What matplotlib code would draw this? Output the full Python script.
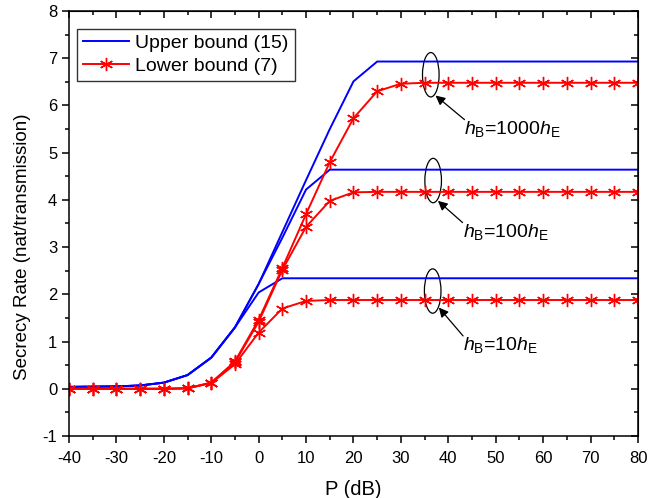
import numpy as np
import matplotlib.pyplot as plt
from matplotlib.patches import Ellipse
from matplotlib.ticker import MultipleLocator

plt.rcParams['font.family'] = ['Liberation Sans', 'DejaVu Sans']
plt.rcParams['mathtext.fontset'] = 'custom'
plt.rcParams['mathtext.rm'] = 'Liberation Sans'
plt.rcParams['mathtext.it'] = 'Liberation Sans:italic'
plt.rcParams['axes.unicode_minus'] = False

P = [-40, -35, -30, -25, -20, -15, -10, -5, 0, 5, 10, 15, 20, 25, 30, 35, 40, 45, 50, 55, 60, 65, 70, 75, 80]

# upper bound (15)
upper_10 = [0.04, 0.045, 0.05, 0.07, 0.13, 0.29, 0.66, 1.30, 2.04, 2.34, 2.34, 2.34, 2.34,
            2.34, 2.34, 2.34, 2.34, 2.34, 2.34, 2.34, 2.34, 2.34, 2.34, 2.34, 2.34]
upper_100 = [0.04, 0.045, 0.05, 0.07, 0.13, 0.29, 0.66, 1.30, 2.22, 3.20, 4.22, 4.64, 4.64,
             4.64, 4.64, 4.64, 4.64, 4.64, 4.64, 4.64, 4.64, 4.64, 4.64, 4.64, 4.64]
upper_1000 = [0.04, 0.045, 0.05, 0.07, 0.13, 0.29, 0.66, 1.30, 2.22, 3.32, 4.42, 5.50, 6.51,
              6.93, 6.93, 6.93, 6.93, 6.93, 6.93, 6.93, 6.93, 6.93, 6.93, 6.93, 6.93]

# lower bound (7)
lower_10 = [0, 0, 0, 0, 0, 0.01, 0.12, 0.52, 1.19, 1.70, 1.86, 1.88, 1.88,
            1.88, 1.88, 1.88, 1.88, 1.88, 1.88, 1.88, 1.88, 1.88, 1.88, 1.88, 1.88]
lower_100 = [0, 0, 0, 0, 0, 0.01, 0.13, 0.56, 1.42, 2.52, 3.43, 3.98, 4.16,
             4.17, 4.17, 4.17, 4.17, 4.17, 4.17, 4.17, 4.17, 4.17, 4.17, 4.17, 4.17]
lower_1000 = [0, 0, 0, 0, 0, 0.01, 0.13, 0.58, 1.46, 2.56, 3.70, 4.80, 5.73,
              6.30, 6.46, 6.48, 6.48, 6.48, 6.48, 6.48, 6.48, 6.48, 6.48, 6.48, 6.48]

labels = [r'$h_\mathrm{B}$=1000$h_\mathrm{E}$',
          r'$h_\mathrm{B}$=100$h_\mathrm{E}$',
          r'$h_\mathrm{B}$=10$h_\mathrm{E}$']
ell_xy = [(36.3, 6.65), (36.8, 4.41), (36.7, 2.07)]
arrow_head = [(37.3, 6.21), (37.8, 3.98), (38.0, 1.72)]
arrow_tail = [(43.4, 5.70), (43.0, 3.52), (43.1, 1.12)]

fig = plt.figure(figsize=(6.49, 4.98), dpi=100)
ax = fig.add_axes([69/649, 1-436/498, 569/649, 425/498])

star = (6, 2, 0)
ax.plot(P, upper_1000, color='blue', lw=1.4, label='Upper bound (15)')
ax.plot(P, upper_100, color='blue', lw=1.4)
ax.plot(P, upper_10, color='blue', lw=1.4)
ax.plot(P, lower_1000, color='red', lw=1.4, marker=star, ms=9.5, mew=1.0, label='Lower bound (7)')
ax.plot(P, lower_100, color='red', lw=1.4, marker=star, ms=9.5, mew=1.0)
ax.plot(P, lower_10, color='red', lw=1.4, marker=star, ms=9.5, mew=1.0)

for lab, c, h, t in zip(labels, ell_xy, arrow_head, arrow_tail):
    ax.add_patch(Ellipse(c, 3.5, 0.94, fill=False, ec='black', lw=0.9))
    ax.annotate('', xy=h, xytext=t,
                arrowprops=dict(arrowstyle='-|>', color='black', lw=0.9,
                                mutation_scale=14, shrinkA=0, shrinkB=0))
    ax.text(t[0], t[1] + 0.02, lab, fontsize=14, ha='left', va='top')

ax.set_xlim(-40, 80)
ax.set_ylim(-1, 8)
ax.xaxis.set_major_locator(MultipleLocator(10))
ax.xaxis.set_minor_locator(MultipleLocator(5))
ax.yaxis.set_major_locator(MultipleLocator(1))
ax.yaxis.set_minor_locator(MultipleLocator(0.5))

for s in ax.spines.values():
    s.set_linewidth(1.1)
ax.tick_params(which='both', direction='out', width=1.1, labelsize=12, top=False, right=False)
ax.tick_params(which='major', length=5)
ax.tick_params(which='minor', length=3)
ax.tick_params(axis='x', pad=6)

# mirrored ticks on top/right pointing inward
sec_x = ax.secondary_xaxis('top')
sec_x.xaxis.set_major_locator(MultipleLocator(10))
sec_x.xaxis.set_minor_locator(MultipleLocator(5))
sec_x.tick_params(which='both', direction='in', width=1.1, labeltop=False)
sec_x.tick_params(which='major', length=5)
sec_x.tick_params(which='minor', length=3)
sec_y = ax.secondary_yaxis('right')
sec_y.yaxis.set_major_locator(MultipleLocator(1))
sec_y.yaxis.set_minor_locator(MultipleLocator(0.5))
sec_y.tick_params(which='both', direction='in', width=1.1, labelright=False)
sec_y.tick_params(which='major', length=5)
sec_y.tick_params(which='minor', length=3)

ax.set_xlabel('P (dB)', fontsize=14.5, labelpad=10)
ax.set_ylabel('Secrecy Rate (nat/transmission)', fontsize=13.5)
ax.yaxis.set_label_coords(-0.066, 0.445)

leg = ax.legend(loc='upper left', bbox_to_anchor=(0.014, 0.958), borderaxespad=0,
                fontsize=14, frameon=True, fancybox=False, handlelength=2.4,
                handletextpad=0.3, labelspacing=0.25, borderpad=0.3)
leg.get_frame().set_edgecolor('black')
leg.get_frame().set_linewidth(1.0)

fig.savefig('out.png', dpi=100)
